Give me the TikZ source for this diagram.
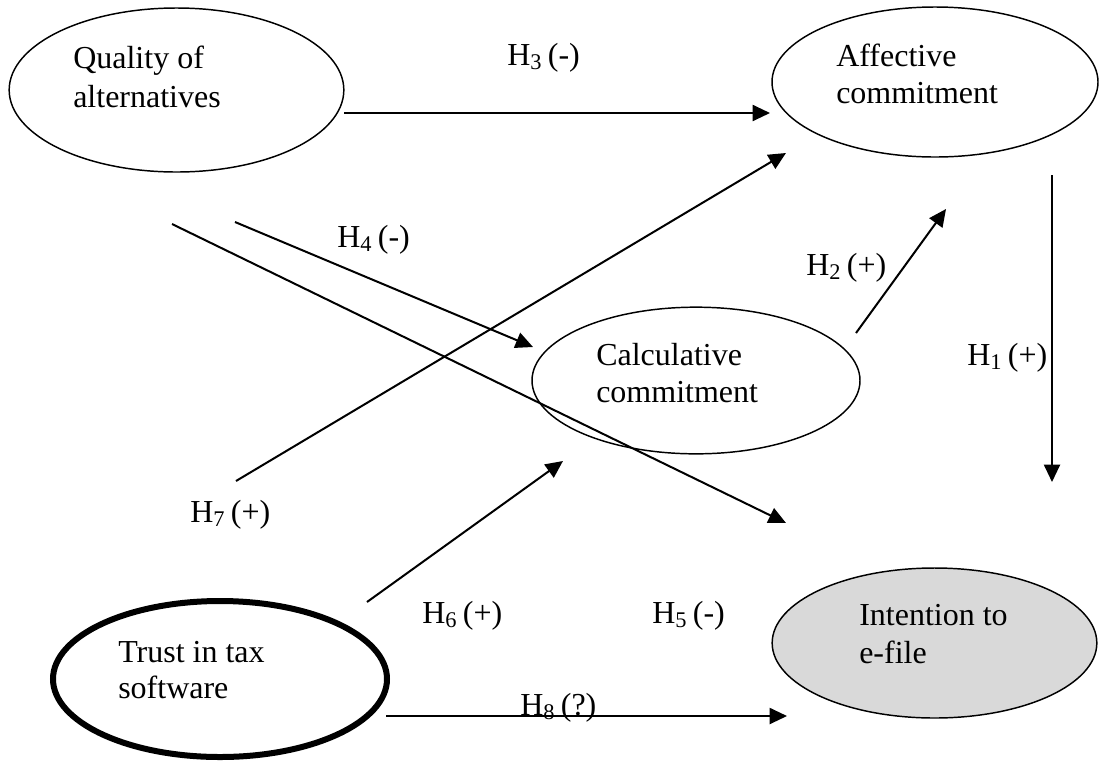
\documentclass[tikz,border=0pt]{standalone}
\usepackage{fontspec}
\setmainfont{Liberation Serif}
\usetikzlibrary{shapes.geometric,arrows.meta}
\newcommand{\hyp}[2]{H\textsubscript{#1 }(#2)}
\begin{document}
\begin{tikzpicture}[x=0.75pt,y=-0.75pt,
  construct/.style={ellipse,draw,line width=1.1pt,inner sep=0pt,outer sep=0pt},
  lbl/.style={anchor=base west,inner sep=0pt,font=\fontsize{24}{29}\selectfont},
  path/.style={line width=1.5pt,-{Triangle[length=13pt,width=12pt]}}]
\useasboundingbox (0,0) rectangle (1099,765);
% constructs
\node[construct,minimum width=251pt,minimum height=123pt] (qa) at (176.5,90) {};
\node[construct,minimum width=244.5pt,minimum height=112.5pt] (ac) at (935,82) {};
\node[construct,minimum width=246pt,minimum height=110pt] (cc) at (696,380.5) {};
\node[construct,line width=4.5pt,minimum width=250.5pt,minimum height=117pt] (tt) at (220,679) {};
\node[construct,fill={rgb,255:red,217;green,217;blue,217},minimum width=243.5pt,minimum height=112.5pt] (ie) at (934.5,643) {};
% construct texts
\node[lbl] (qa1) at (73,68) {Quality of};
\node[lbl] (qa2) at (73,107) {alternatives};
\node[lbl] (ac1) at (836,66) {Affective};
\node[lbl] (ac2) at (836,103) {commitment};
\node[lbl] (cc1) at (596,365) {Calculative};
\node[lbl] (cc2) at (596,402) {commitment};
\node[lbl] (tt1) at (118,662) {Trust in tax};
\node[lbl] (tt2) at (118,698) {software};
\node[lbl] (ie1) at (859,625) {Intention to};
\node[lbl] (ie2) at (859,663) {e-file};
% connector end points
\coordinate (h3s) at (344,113);   \coordinate (h3e) at (770,113);
\coordinate (h7s) at (236,481);   \coordinate (h7e) at (786,153);
\coordinate (h2s) at (856,333);   \coordinate (h2e) at (946,209);
\coordinate (h1s) at (1052,175);  \coordinate (h1e) at (1052,482);
\coordinate (h4s) at (235,222);   \coordinate (h4e) at (533,347);
\coordinate (h5s) at (172,224);   \coordinate (h5e) at (786,523);
\coordinate (h6s) at (367,602);   \coordinate (h6e) at (563,461);
\coordinate (h8s) at (386,716);   \coordinate (h8e) at (787,716);
% connectors
\draw[path] (h3s) -- (h3e);
\draw[path] (h7s) -- (h7e);
\draw[path] (h2s) -- (h2e);
\draw[path] (h1s) -- (h1e);
\draw[path] (h4s) -- (h4e);
\draw[path] (h5s) -- (h5e);
\draw[path] (h6s) -- (h6e);
\draw[path] (h8s) -- (h8e);
% hypothesis labels
\node[lbl] (l3) at (507,65) {\hyp{3}{-}};
\node[lbl] (l4) at (337,247) {\hyp{4}{-}};
\node[lbl] (l2) at (806,275) {\hyp{2}{+}};
\node[lbl] (l1) at (967,365) {\hyp{1}{+}};
\node[lbl] (l7) at (190,522) {\hyp{7}{+}};
\node[lbl] (l6) at (422,623) {\hyp{6}{+}};
\node[lbl] (l5) at (652,623) {\hyp{5}{-}};
\node[lbl] (l8) at (520,715) {\hyp{8}{?}};
\end{tikzpicture}
\end{document}
